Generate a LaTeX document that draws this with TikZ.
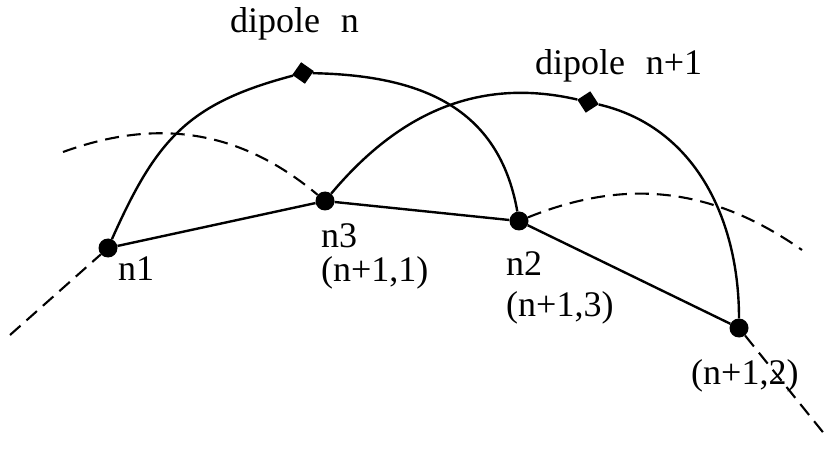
\documentclass[tikz,border=0pt]{standalone}
\usepackage{fontspec}
\setmainfont{Liberation Serif}
\newfontfamily\widesp[WordSpace=2.3]{Liberation Serif}
\usetikzlibrary{positioning,shapes.geometric,calc}

\begin{document}
\begin{tikzpicture}[x=1pt,y=1pt,
    dot/.style={circle,fill=black,inner sep=0pt,minimum size=19pt},
    dmd/.style={diamond,fill=black,inner sep=0pt,minimum size=22pt},
    lbl/.style={inner sep=0pt,anchor=base west,font=\fontsize{36}{40}\selectfont},
    wire/.style={line width=2.4pt},
    guide/.style={line width=2.1pt,dash pattern=on 14pt off 8pt}]
  \useasboundingbox (0,0) rectangle (834,450);
  % element nodes
  \node[dot] (n1) at (108,202) {};
  \node[dot] (n3) at (325,249) {};
  \node[dot] (n2) at (519,229) {};
  \node[dot] (m2) at (739,122) {};
  \node[dmd,rotate=10] (d1) at (303,377) {};
  \node[dmd,rotate=-12] (d2) at (588,348) {};
  % free ends of the dashed guides
  \coordinate (l0) at (10,115);
  \coordinate (l1) at (63,298);
  \coordinate (r1) at (802,200);
  \coordinate (r2) at (826,14);
  % labels
  \node[lbl] (dn) at (230,417) {\widesp dipole n};
  \node[lbl] (dn1) at (535,375) {\widesp dipole n+1};
  \node[lbl] (t1) at (118,170) {n1};
  \node[lbl] (t3) at (321,202) {n3};
  \node[lbl] (t3b) at ([yshift=-34pt]t3.base west) {(n+1,1)};
  \node[lbl] (t2) at (506,175) {n2};
  \node[lbl] (t2b) at ([yshift=-41pt]t2.base west) {(n+1,3)};
  \node[lbl] (tm2) at (691,66) {(n+1,2)};
  % dashed guides
  \draw[guide] (l0) -- (n1);
  \draw[guide] (l1) to[out=20,in=140] (n3);
  \draw[guide] (n2) to[out=22,in=145] (r1);
  \draw[guide] (m2) -- (r2);
  % chain and dipole arcs
  \draw[wire] (n1) -- (n3) -- (n2) -- (m2);
  \draw[wire] (n1) to[out=66,in=194,looseness=1.15] (d1)
    to[out=-2,in=100,looseness=1.1] (n2);
  \draw[wire] (n3) to[out=50,in=168] (d2) to[out=-12,in=90] (m2);
\end{tikzpicture}
\end{document}
